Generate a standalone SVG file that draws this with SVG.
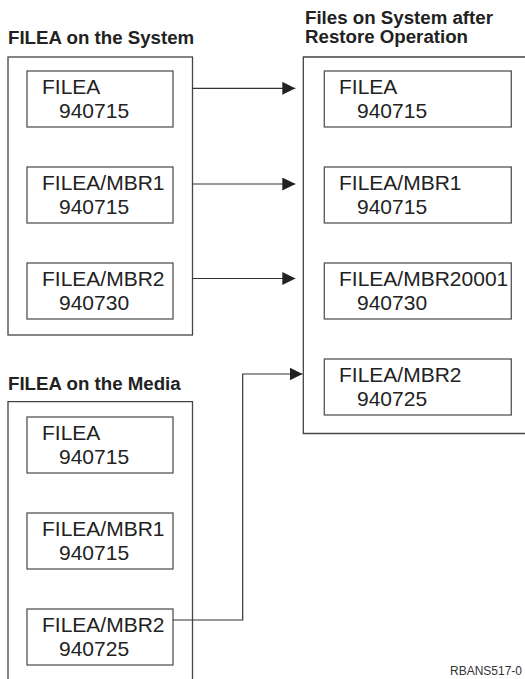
<svg xmlns="http://www.w3.org/2000/svg" width="525" height="679" viewBox="0 0 525 679">
<defs>
<style>
.hdr{font-family:"Liberation Sans",Arial,sans-serif;font-weight:bold;font-size:18.7px;fill:#222}
.lbl{font-family:"Liberation Sans",Arial,sans-serif;font-size:21px;fill:#222}
.cont{fill:none;stroke:#444;stroke-width:1.3}
.box{fill:#fff;stroke:#555;stroke-width:1.3}
.conn{fill:none;stroke:#333;stroke-width:1.2}
.foot{font-family:"Liberation Sans",Arial,sans-serif;font-size:12px;fill:#333}
</style>
<marker id="arr" markerWidth="13" markerHeight="13" refX="13" refY="6.5" orient="auto" markerUnits="userSpaceOnUse">
<path d="M0,0 L13,6.5 L0,13 Z" fill="#222"/>
</marker>
</defs>
<rect width="525" height="679" fill="#fff"/>

<text class="hdr" x="8" y="44">FILEA on the System</text>
<text class="hdr" x="305" y="24">Files on System after</text>
<text class="hdr" x="305" y="43">Restore Operation</text>
<text class="hdr" x="8" y="390">FILEA on the Media</text>

<g id="system-container"><rect class="cont" x="8" y="57" width="184.5" height="278"/></g>
<g id="restored-container"><path class="cont" d="M530,57 H303.3 V433.5 H530"/></g>
<g id="media-container"><path class="cont" d="M8,690 V401.7 H192.5 V690"/></g>

<g id="sys-filea"><rect class="box" x="27" y="71" width="146" height="56"/>
<text class="lbl" x="42" y="94">FILEA</text><text class="lbl" x="59" y="118">940715</text></g>
<g id="sys-mbr1"><rect class="box" x="27" y="167" width="146" height="56"/>
<text class="lbl" x="42" y="190">FILEA/MBR1</text><text class="lbl" x="59" y="214">940715</text></g>
<g id="sys-mbr2"><rect class="box" x="27" y="263" width="146" height="56"/>
<text class="lbl" x="42" y="286">FILEA/MBR2</text><text class="lbl" x="59" y="310">940730</text></g>

<g id="res-filea"><rect class="box" x="324.3" y="71" width="187" height="56"/>
<text class="lbl" x="339" y="94">FILEA</text><text class="lbl" x="357" y="118">940715</text></g>
<g id="res-mbr1"><rect class="box" x="324.3" y="167" width="187" height="56"/>
<text class="lbl" x="339" y="190">FILEA/MBR1</text><text class="lbl" x="357" y="214">940715</text></g>
<g id="res-mbr20001"><rect class="box" x="324.3" y="263" width="187" height="56"/>
<text class="lbl" x="339" y="286">FILEA/MBR20001</text><text class="lbl" x="357" y="310">940730</text></g>
<g id="res-mbr2"><rect class="box" x="324.3" y="359" width="187" height="56"/>
<text class="lbl" x="339" y="382">FILEA/MBR2</text><text class="lbl" x="357" y="406">940725</text></g>

<g id="med-filea"><rect class="box" x="27" y="417" width="146" height="56"/>
<text class="lbl" x="42" y="440">FILEA</text><text class="lbl" x="59" y="464">940715</text></g>
<g id="med-mbr1"><rect class="box" x="27" y="513" width="146" height="56"/>
<text class="lbl" x="42" y="536">FILEA/MBR1</text><text class="lbl" x="59" y="560">940715</text></g>
<g id="med-mbr2"><rect class="box" x="27" y="609" width="146" height="56"/>
<text class="lbl" x="42" y="632">FILEA/MBR2</text><text class="lbl" x="59" y="656">940725</text></g>

<g id="connectors">
<path class="conn" d="M192.5,88.3 H295.3" marker-end="url(#arr)"/>
<path class="conn" d="M192.5,184 H295.3" marker-end="url(#arr)"/>
<path class="conn" d="M192.5,278.5 H295.3" marker-end="url(#arr)"/>
<path class="conn" d="M173,620 H242.7 V374 H302.5" marker-end="url(#arr)"/>
</g>

<text class="foot" x="450" y="675">RBANS517-0</text>
</svg>
